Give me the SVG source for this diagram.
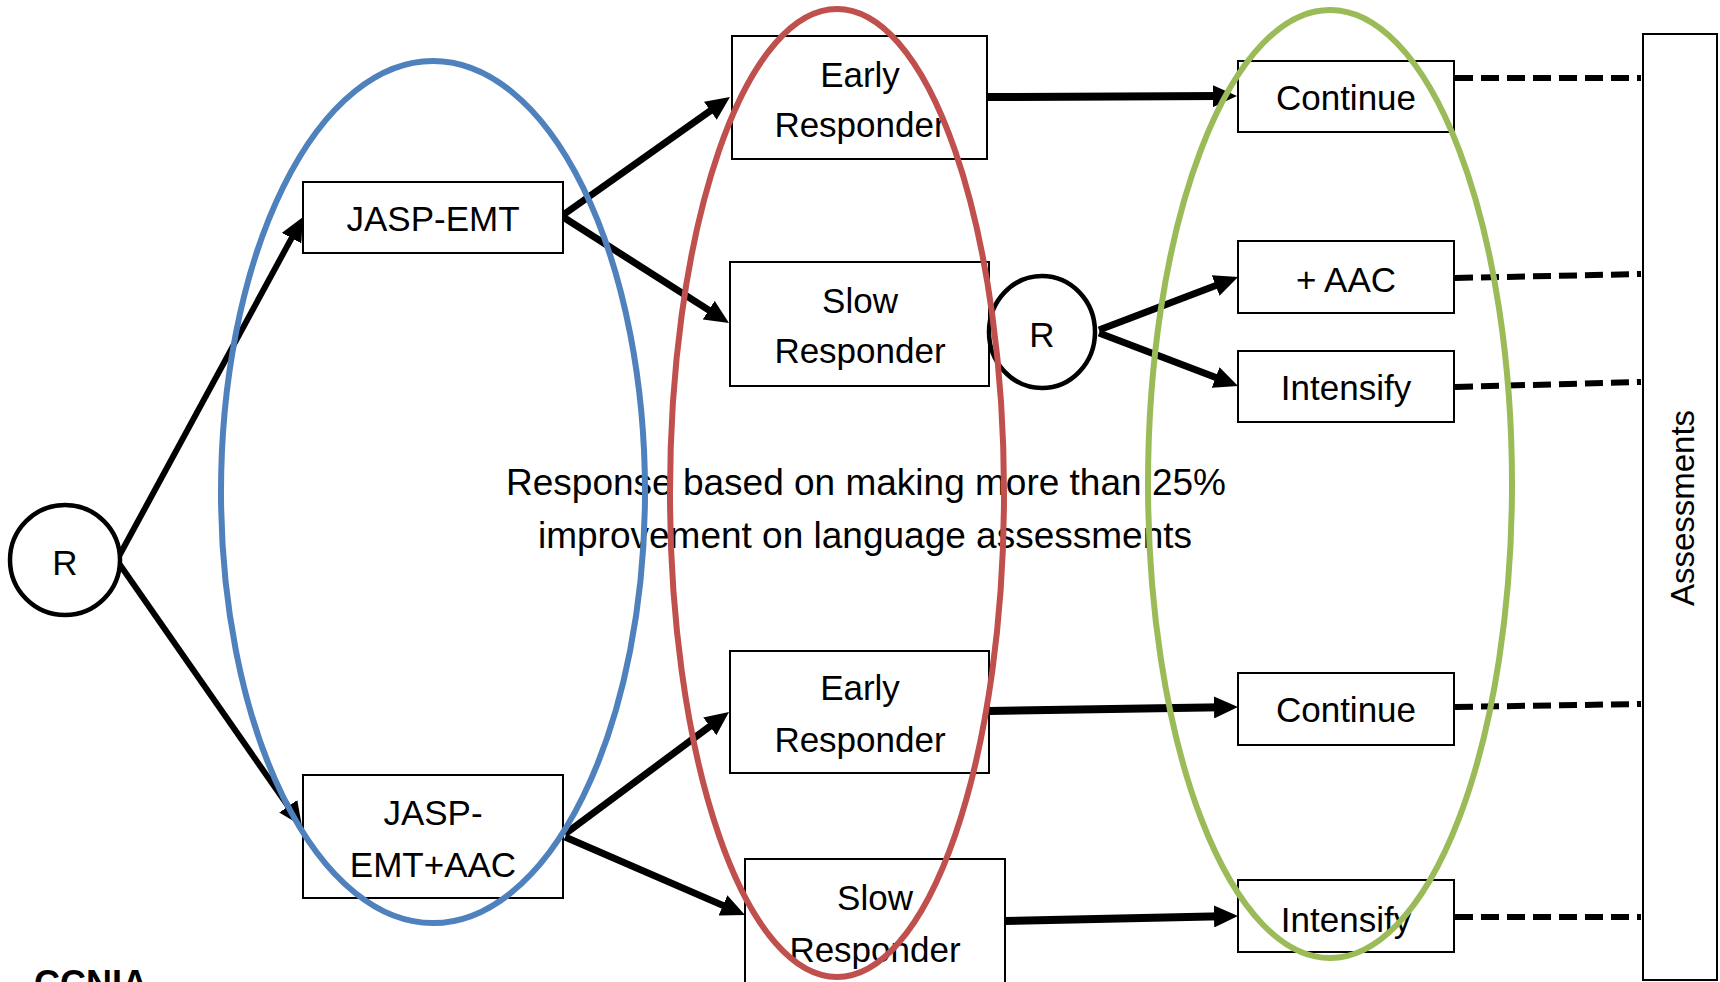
<svg xmlns="http://www.w3.org/2000/svg" width="1720" height="982" viewBox="0 0 1720 982">
<style>
.box{fill:#fff;stroke:#000;stroke-width:2}
.circ{fill:#fff;stroke:#000;stroke-width:4.5}
.t{font-family:"Liberation Sans",Arial,sans-serif;font-size:35px;fill:#000;text-anchor:middle}
.lbl{font-family:"Liberation Sans",Arial,sans-serif;font-size:37px;fill:#000;text-anchor:middle}
.arr{stroke:#000;fill:none;marker-end:url(#ah)}
.dash{stroke:#000;stroke-width:6;stroke-dasharray:18 8;fill:none}
.ell{fill:none;stroke-width:6}
</style>
<defs>
<marker id="ah" markerUnits="userSpaceOnUse" markerWidth="24" markerHeight="22" viewBox="0 0 24 22" refX="8" refY="11" orient="auto">
<path d="M0,0 L24,11 L0,22 z" fill="#000"/>
</marker>
</defs>
<rect width="1720" height="982" fill="#fff"/>

<g id="connectors">
<line class="arr" stroke-width="6" x1="118" y1="558" x2="295.4" y2="231.1"/>
<line class="arr" stroke-width="6" x1="118" y1="562" x2="292.8" y2="812.9"/>
<line class="arr" stroke-width="7" x1="563" y1="215" x2="716.9" y2="106.2"/>
<line class="arr" stroke-width="7" x1="563" y1="217" x2="715.5" y2="314.4"/>
<line class="arr" stroke-width="8" x1="987" y1="97" x2="1221" y2="96.1"/>
<line class="arr" stroke-width="7" x1="1099" y1="330" x2="1223.1" y2="282.7"/>
<line class="arr" stroke-width="7" x1="1099" y1="333" x2="1223.1" y2="380.3"/>
<line class="arr" stroke-width="7" x1="565" y1="834" x2="716.2" y2="721.6"/>
<line class="arr" stroke-width="7" x1="565" y1="837" x2="730.3" y2="908.6"/>
<line class="arr" stroke-width="8" x1="989" y1="711" x2="1222" y2="707.3"/>
<line class="arr" stroke-width="8" x1="1004" y1="921" x2="1222" y2="916.3"/>
<line class="dash" x1="1455" y1="78" x2="1641" y2="78"/>
<line class="dash" x1="1455" y1="278" x2="1641" y2="274"/>
<line class="dash" x1="1455" y1="387" x2="1641" y2="382"/>
<line class="dash" x1="1455" y1="707" x2="1641" y2="704"/>
<line class="dash" x1="1455" y1="917" x2="1641" y2="917"/>
</g>

<g id="r-start">
<circle class="circ" cx="65" cy="560" r="55"/>
<text class="t" x="65" y="575">R</text>
</g>
<g id="jasp-emt">
<rect class="box" x="303" y="182" width="260" height="71"/>
<text class="t" x="433" y="231">JASP-EMT</text>
</g>
<g id="jasp-emt-aac">
<rect class="box" x="303" y="775" width="260" height="123"/>
<text class="t" x="433" y="825">JASP-</text>
<text class="t" x="433" y="877">EMT+AAC</text>
</g>
<g id="early-1">
<rect class="box" x="732" y="36" width="255" height="123"/>
<text class="t" x="860" y="87">Early</text>
<text class="t" x="860" y="137">Responder</text>
</g>
<g id="slow-1">
<rect class="box" x="730" y="262" width="259" height="124"/>
<text class="t" x="860" y="313">Slow</text>
<text class="t" x="860" y="363">Responder</text>
</g>
<g id="early-2">
<rect class="box" x="730" y="651" width="259" height="122"/>
<text class="t" x="860" y="700">Early</text>
<text class="t" x="860" y="752">Responder</text>
</g>
<g id="slow-2">
<rect class="box" x="745" y="859" width="260" height="130"/>
<text class="t" x="875" y="910">Slow</text>
<text class="t" x="875" y="962">Responder</text>
</g>
<g id="r-mid">
<ellipse class="circ" cx="1042" cy="332" rx="53" ry="56"/>
<text class="t" x="1042" y="347">R</text>
</g>
<g id="continue-1">
<rect class="box" x="1238" y="61" width="216" height="71"/>
<text class="t" x="1346" y="110">Continue</text>
</g>
<g id="aac">
<rect class="box" x="1238" y="241" width="216" height="72"/>
<text class="t" x="1346" y="292">+ AAC</text>
</g>
<g id="intensify-1">
<rect class="box" x="1238" y="351" width="216" height="71"/>
<text class="t" x="1346" y="400">Intensify</text>
</g>
<g id="continue-2">
<rect class="box" x="1238" y="673" width="216" height="72"/>
<text class="t" x="1346" y="722">Continue</text>
</g>
<g id="intensify-2">
<rect class="box" x="1238" y="880" width="216" height="72"/>
<text class="t" x="1346" y="932">Intensify</text>
</g>
<g id="assessments">
<rect class="box" x="1643" y="34" width="74" height="946"/>
<text font-family="Liberation Sans,Arial,sans-serif" font-size="33" text-anchor="middle" transform="translate(1694,508) rotate(-90)">Assessments</text>
</g>
<g id="note">
<text class="lbl" x="866" y="495">Response based on making more than 25%</text>
<text class="lbl" x="865" y="548">improvement on language assessments</text>
</g>
<g id="groups">
<ellipse class="ell" stroke="#4F81BD" cx="433" cy="492" rx="212" ry="431"/>
<ellipse class="ell" stroke="#C0504D" cx="837" cy="493" rx="167" ry="484"/>
<ellipse class="ell" stroke="#9BBB59" cx="1330" cy="484" rx="182" ry="474"/>
</g>
<text font-family="Liberation Sans,Arial,sans-serif" font-size="36" font-weight="bold" x="34" y="996">CCNIA</text>
</svg>
